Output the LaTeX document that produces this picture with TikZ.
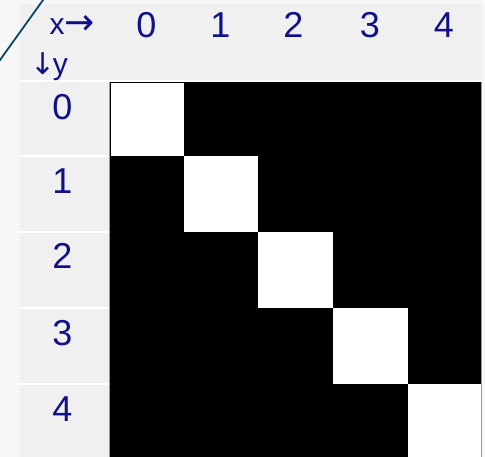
\documentclass[tikz,border=0pt]{standalone}
\usepackage{fontspec}
\setmainfont{Liberation Sans}
\newfontfamily\arrowfont{DejaVu Sans}
\definecolor{outerbg}{HTML}{F7F7F7}
\definecolor{headbg}{HTML}{F0F0F0}
\definecolor{labelblue}{RGB}{16,16,140}
\definecolor{diagline}{HTML}{0E4468}
\definecolor{edgegrey}{HTML}{9A9A9A}
\tikzset{
  lbl/.style={text=labelblue, font=\fontsize{36}{40}\selectfont, inner sep=0pt, anchor=base},
  hlbl/.style={text=labelblue, font=\fontsize{30}{32}\selectfont, inner sep=0pt, anchor=base west},
}
\begin{document}
\begin{tikzpicture}[x=1pt,y=-1pt]
\useasboundingbox (0,0) rectangle (485,457);
% backgrounds
\fill[outerbg] (0,0) rectangle (485,457);
\fill[headbg] (20,4) rectangle (482,457);
% grid region
\fill[black] (109.5,82.5) rectangle (482,457);
% white diagonal cells
\fill[white] (110.5,83.5) rectangle (183.5,156.5);
\fill[white] (183.5,156.5) rectangle (258,232);
\fill[white] (258,232) rectangle (333,308);
\fill[white] (333,308) rectangle (407.5,384);
\fill[white] (407.5,384) rectangle (481,457);
% separators
\draw[white, line width=2pt] (20,81.5) -- (482,81.5);
\draw[white, line width=2pt] (20,156.5) -- (109,156.5);
\draw[white, line width=2pt] (20,232.5) -- (109,232.5);
\draw[white, line width=2pt] (20,308) -- (109,308);
\draw[white, line width=2pt] (20,384) -- (109,384);
\draw[edgegrey, line width=1pt] (109.5,82.5) -- (109.5,457);
\draw[edgegrey, line width=1pt] (481.8,82.5) -- (481.8,457);
% diagonal line of the corner header
\coordinate (dA) at (-2,62.8);
\coordinate (dB) at (44.5,-2);
\draw[diagline, line width=1.8pt] (dA) -- (dB);
% header texts
\node[hlbl] (xh) at (49.5,35) {x{\arrowfont\fontsize{36}{38}\selectfont →}};
\node[hlbl] (yh) at (30,75) {{\arrowfont\fontsize{30}{34}\selectfont ↓}\kern-2.5pt y};
% column labels
\node[lbl] (c0) at (146.5,38) {0};
\node[lbl] (c1) at (220.5,38) {1};
\node[lbl] (c2) at (293.5,38) {2};
\node[lbl] (c3) at (370,38) {3};
\node[lbl] (c4) at (444,38) {4};
% row labels
\node[lbl] (r0) at (62.5,119.5) {0};
\node[lbl] (r1) at (62.5,193.5) {1};
\node[lbl] (r2) at (62.5,269) {2};
\node[lbl] (r3) at (62.5,345) {3};
\node[lbl] (r4) at (62.5,421) {4};
\end{tikzpicture}
\end{document}
